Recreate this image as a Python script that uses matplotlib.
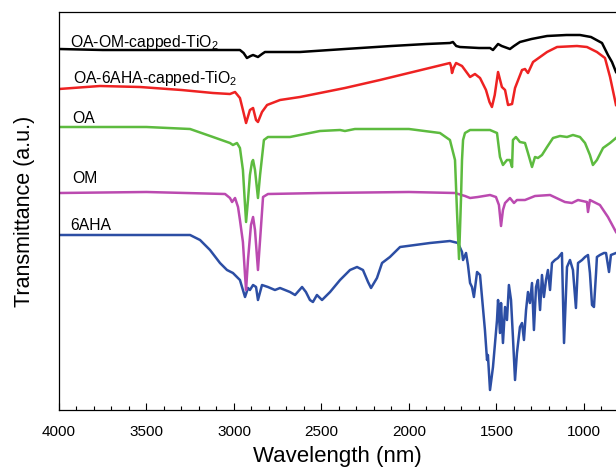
import numpy as np
import matplotlib
matplotlib.use("Agg")
from matplotlib import pyplot as plt
from matplotlib.ticker import MultipleLocator

plt.rcParams["font.family"] = ["Liberation Sans", "DejaVu Sans"]
plt.rcParams["mathtext.fontset"] = "custom"
plt.rcParams["mathtext.rm"] = "Liberation Sans"

# wavenumber / transmittance (a.u.)
wn_tio2_om = [4000, 3750, 3500, 3250, 3050, 2966, 2945, 2926, 2905, 2891, 2863, 2840, 2823, 2623,
              2366, 2100, 1900, 1766, 1749, 1730, 1709, 1600, 1537, 1520, 1491, 1470, 1423, 1400,
              1366, 1300, 1211, 1100, 1023, 960, 897, 863, 840, 817]
t_tio2_om = [361, 360, 360, 360, 360, 360, 357, 352, 354, 355, 353, 356, 358, 358,
             361, 364, 366, 367, 368, 364, 363, 362, 362, 360, 366, 364, 361, 364,
             368, 371, 374, 375, 375, 373, 367, 355, 348, 338]

wn_tio2_aha = [4000, 3766, 3537, 3300, 3120, 3023, 2994, 2966, 2949, 2931, 2909, 2891, 2874, 2863,
               2840, 2811, 2737, 2623, 2480, 2366, 2166, 1766, 1760, 1754, 1745, 1731, 1697, 1651,
               1623, 1594, 1560, 1540, 1526, 1510, 1491, 1469, 1451, 1434, 1411, 1394, 1354, 1337,
               1320, 1291, 1211, 1154, 1040, 983, 926, 880, 851, 817]
t_tio2_aha = [321, 324, 323, 320, 317, 316, 318, 312, 300, 287, 300, 302, 290, 288,
              298, 305, 310, 313, 318, 322, 330, 347, 344, 337, 342, 347, 344, 333,
              336, 332, 320, 308, 303, 315, 338, 323, 320, 305, 306, 322, 340, 341,
              337, 348, 358, 363, 364, 363, 358, 352, 333, 305]

wn_oa = [4000, 3500, 3251, 3120, 3023, 3006, 2983, 2966, 2949, 2937, 2931, 2920, 2909, 2897,
         2891, 2880, 2863, 2851, 2829, 2806, 2680, 2509, 2394, 2366, 2309, 2000, 1823, 1766,
         1737, 1726, 1714, 1703, 1697, 1691, 1680, 1651, 1537, 1497, 1480, 1463, 1440, 1423,
         1411, 1406, 1389, 1366, 1337, 1320, 1297, 1280, 1263, 1240, 1211, 1177, 1137, 1097,
         1063, 1023, 994, 966, 949, 926, 891, 851, 817]
t_oa = [283, 283, 281, 273, 267, 265, 267, 262, 240, 205, 188, 210, 235, 248,
        250, 240, 212, 235, 270, 273, 273, 279, 280, 279, 281, 281, 277, 270,
        250, 200, 151, 210, 250, 270, 277, 280, 280, 277, 253, 245, 250, 250,
        243, 270, 273, 268, 267, 257, 243, 253, 252, 255, 263, 272, 274, 273,
        275, 273, 267, 255, 245, 250, 262, 267, 272]

wn_om = [4000, 3500, 3051, 3023, 3011, 2994, 2977, 2966, 2949, 2937, 2931, 2920, 2903, 2891,
         2880, 2863, 2851, 2834, 2806, 2500, 2000, 1737, 1680, 1651, 1606, 1537, 1503, 1486,
         1474, 1463, 1451, 1423, 1400, 1383, 1337, 1280, 1194, 1109, 1069, 1034, 983, 977,
         966, 909, 863, 817]
t_om = [217, 218, 216, 212, 208, 212, 203, 190, 168, 135, 120, 150, 185, 193,
        180, 140, 170, 213, 216, 217, 218, 217, 214, 212, 213, 215, 213, 205,
        184, 200, 207, 212, 207, 210, 210, 214, 215, 208, 207, 210, 208, 198,
        210, 205, 193, 178]

wn_aha = [4000, 3500, 3251, 3194, 3137, 3080, 3040, 3006, 2966, 2937, 2920, 2909, 2891, 2874,
          2863, 2840, 2806, 2766, 2737, 2680, 2651, 2611, 2589, 2566, 2549, 2526, 2497, 2451,
          2394, 2337, 2297, 2263, 2234, 2217, 2183, 2154, 2109, 2051, 1880, 1766, 1720, 1697,
          1691, 1674, 1663, 1651, 1640, 1629, 1611, 1594, 1566, 1554, 1549, 1537, 1520, 1497,
          1491, 1480, 1474, 1463, 1451, 1440, 1429, 1417, 1406, 1394, 1383, 1366, 1354, 1343,
          1331, 1320, 1309, 1297, 1286, 1274, 1263, 1251, 1240, 1229, 1217, 1206, 1194, 1183,
          1166, 1149, 1126, 1114, 1097, 1080, 1063, 1046, 1034, 1011, 994, 977, 966, 954,
          943, 931, 926, 909, 886, 874, 857, 846, 817]
t_aha = [175, 175, 175, 170, 160, 147, 140, 137, 130, 113, 122, 120, 125, 123,
         110, 125, 123, 120, 122, 118, 115, 123, 118, 110, 108, 115, 110, 118,
         130, 140, 143, 140, 128, 122, 132, 147, 153, 163, 167, 169, 167, 158,
         150, 157, 145, 127, 123, 113, 138, 135, 80, 50, 55, 20, 43, 90,
         110, 77, 107, 67, 103, 90, 125, 110, 73, 30, 57, 83, 87, 70,
         100, 118, 107, 127, 80, 123, 130, 100, 135, 113, 130, 140, 120, 147,
         150, 152, 157, 67, 143, 150, 140, 102, 147, 150, 153, 155, 137, 105,
         103, 137, 153, 155, 157, 157, 138, 155, 157]

fig = plt.figure(figsize=(6.16, 4.67), dpi=100)
ax = fig.add_axes([59 / 616, 57 / 467, 1 - 59 / 616, 398 / 467])

lw = 1.8
ax.plot(wn_aha, t_aha, color="#2c4ea4", lw=lw)
ax.plot(wn_om, t_om, color="#bb4ab0", lw=lw)
ax.plot(wn_oa, t_oa, color="#5dbb3f", lw=lw)
ax.plot(wn_tio2_aha, t_tio2_aha, color="#ee2222", lw=lw)
ax.plot(wn_tio2_om, t_tio2_om, color="black", lw=lw)

fs = 11.3
ax.text(3937, 363, r"OA-OM-capped-TiO$_2$", fontsize=fs, va="baseline")
ax.text(3920, 327, r"OA-6AHA-capped-TiO$_2$", fontsize=fs, va="baseline")
ax.text(3926, 287, "OA", fontsize=fs, va="baseline")
ax.text(3926, 227, "OM", fontsize=fs, va="baseline")
ax.text(3937, 180, "6AHA", fontsize=fs, va="baseline")

ax.set_xlim(4000, 817)
ax.set_ylim(0, 398)
ax.xaxis.set_major_locator(MultipleLocator(500))
ax.xaxis.set_minor_locator(MultipleLocator(100))
ax.tick_params(axis="x", which="major", direction="in", length=5, width=0.8,
               labelsize=11, pad=11)
ax.tick_params(axis="x", which="minor", direction="in", length=3, width=0.8)
ax.set_yticks([])
ax.spines["right"].set_visible(False)
for s in ["left", "bottom", "top"]:
    ax.spines[s].set_linewidth(0.9)

ax.set_xlabel("Wavelength (nm)", fontsize=16, labelpad=5)
ax.set_ylabel("Transmittance (a.u.)", fontsize=15.5, labelpad=17)

fig.savefig("out.png", dpi=100)
